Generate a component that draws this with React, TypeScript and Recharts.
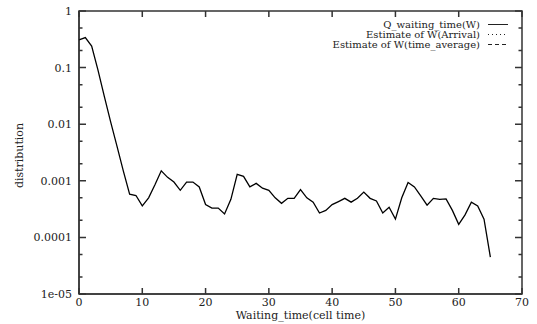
import { LineChart, Line, XAxis, YAxis, Legend, ReferenceArea } from 'recharts'

const waitingTime = [
  0, 1, 2, 3, 4, 5, 6, 7, 8, 9, 10, 11, 12, 13, 14, 15, 16, 17, 18, 19, 20, 21,
  22, 23, 24, 25, 26, 27, 28, 29, 30, 31, 32, 33, 34, 35, 36, 37, 38, 39, 40, 41,
  42, 43, 44, 45, 46, 47, 48, 49, 50, 51, 52, 53, 54, 55, 56, 57, 58, 59, 60, 61,
  62, 63, 64, 65,
]

const qWaiting = [
  0.31, 0.34, 0.24, 0.09, 0.031, 0.011, 0.0041, 0.0015, 0.00058, 0.00055, 0.00036,
  0.0005, 0.00085, 0.0015, 0.00115, 0.00095, 0.00068, 0.00095, 0.00095, 0.00078,
  0.00038, 0.00033, 0.00033, 0.00026, 0.00047, 0.0013, 0.0012, 0.00078, 0.0009,
  0.00074, 0.00068, 0.0005, 0.0004, 0.00049, 0.00049, 0.0007, 0.0005, 0.00042,
  0.00027, 0.0003, 0.00038, 0.00043, 0.00049, 0.00042, 0.00049, 0.00063, 0.00049,
  0.00044, 0.00027, 0.00034, 0.00021, 0.0005, 0.00093, 0.00078, 0.00054, 0.00037,
  0.00049, 0.00047, 0.00048, 0.0003, 0.00017, 0.00025, 0.00042, 0.00036, 0.00021,
  0.000045,
]

const xTicks = [0, 10, 20, 30, 40, 50, 60, 70]
const yMajorTicks = [1, 0.1, 0.01, 0.001, 0.0001, 0.00001]
const yTickLabels = ['1', '0.1', '0.01', '0.001', '0.0001', '1e-05']
const yMinorTicks = [
  0.5, 0.2, 0.05, 0.02, 0.005, 0.002, 0.0005, 0.0002, 0.00005, 0.00002,
]

const legendItems = [
  { name: 'Q_waiting_time(W)', dash: undefined },
  { name: 'Estimate of W(Arrival)', dash: '1 3' },
  { name: 'Estimate of W(time_average)', dash: '4 3' },
]

const data = waitingTime.map((t, i) => ({ t, q: qWaiting[i] }))
const yTicks = [...yMajorTicks, ...yMinorTicks]

const W = 537
const H = 324
const M = { top: 11, right: 15, bottom: 0, left: 0 }
const Y_AXIS_W = 79
const X_AXIS_H = 30
// plot box edges, used to mirror ticks on the top and right sides (gnuplot style)
const PLOT_TOP = M.top
const PLOT_RIGHT = W - M.right

const FONT = '"DejaVu Serif", "Liberation Serif", serif'
const INK = '#222'
const FRAME = '#333333'

function BottomTick(props: any) {
  const { x, y, payload } = props
  return (
    <g>
      <path d={`M${x},${y}V${y - 6}M${x},${PLOT_TOP}V${PLOT_TOP + 6}`} stroke={FRAME} strokeWidth={1.5} fill="none" />
      <text x={x} y={y + 12} textAnchor="middle" fontSize={11} fontFamily={FONT} fill={INK}>
        {payload.value}
      </text>
    </g>
  )
}

function LeftTick(props: any) {
  const { x, y, payload } = props
  const idx = yMajorTicks.indexOf(payload.value)
  const len = idx >= 0 ? 7 : 3.5
  return (
    <g>
      <path d={`M${x},${y}H${x + len}M${PLOT_RIGHT},${y}H${PLOT_RIGHT - len}`} stroke={FRAME} strokeWidth={1.5} fill="none" />
      {idx >= 0 && (
        <text x={x - 7} y={y + 4} textAnchor="end" fontSize={11} fontFamily={FONT} fill={INK}>
          {yTickLabels[idx]}
        </text>
      )}
    </g>
  )
}

function KeyBox() {
  return (
    <svg width={W} height={60}>
      {legendItems.map((item, i) => {
        const cy = 24.5 + i * 10
        return (
          <g key={item.name}>
            <text x={480} y={cy + 3.5} textAnchor="end" fontSize={10} fontFamily={FONT} fill={INK}>
              {item.name}
            </text>
            <line x1={488} y1={cy} x2={508} y2={cy} stroke={INK} strokeDasharray={item.dash} />
          </g>
        )
      })}
    </svg>
  )
}

export default function App() {
  return (
    <div style={{ position: 'absolute', left: 0, top: 0, background: '#fff' }}>
      <LineChart width={W} height={H} data={data} margin={M}>
        <ReferenceArea
          x1={0}
          x2={70}
          y1={0.00001}
          y2={1}
          fill="none"
          stroke={FRAME}
          strokeWidth={1.5}
          ifOverflow="visible"
        />
        <XAxis
          dataKey="t"
          type="number"
          domain={[0, 70]}
          ticks={xTicks}
          interval={0}
          height={X_AXIS_H}
          tickSize={0}
          tickMargin={0}
          axisLine={{ stroke: INK }}
          tickLine={false}
          tick={<BottomTick />}
          label={{
            value: 'Waiting_time(cell time)',
            position: 'insideBottom',
            offset: 5,
            fontSize: 11,
            fontFamily: FONT,
            fill: INK,
          }}
        />
        <YAxis
          type="number"
          scale="log"
          domain={[0.00001, 1]}
          ticks={yTicks}
          interval={0}
          width={Y_AXIS_W}
          tickSize={0}
          tickMargin={0}
          axisLine={{ stroke: INK }}
          tickLine={false}
          tick={<LeftTick />}
          allowDataOverflow
          label={{
            content: ({ viewBox }: any) => {
              const cy = viewBox.y + viewBox.height / 2 + 3
              return (
                <text
                  x={20}
                  y={cy}
                  transform={`rotate(-90 20 ${cy})`}
                  textAnchor="middle"
                  dominantBaseline="middle"
                  fontSize={11}
                  fontFamily={FONT}
                  fill={INK}
                >
                  distribution
                </text>
              )
            },
          }}
        />
        <Legend
          layout="horizontal"
          verticalAlign="middle"
          align="center"
          wrapperStyle={{ top: 0, left: 0, width: W, height: 60 }}
          content={() => <KeyBox />}
        />
        <Line
          type="linear"
          dataKey="q"
          name="Q_waiting_time(W)"
          stroke="#000"
          strokeWidth={1.3}
          dot={false}
          isAnimationActive={false}
        />
      </LineChart>
    </div>
  )
}
